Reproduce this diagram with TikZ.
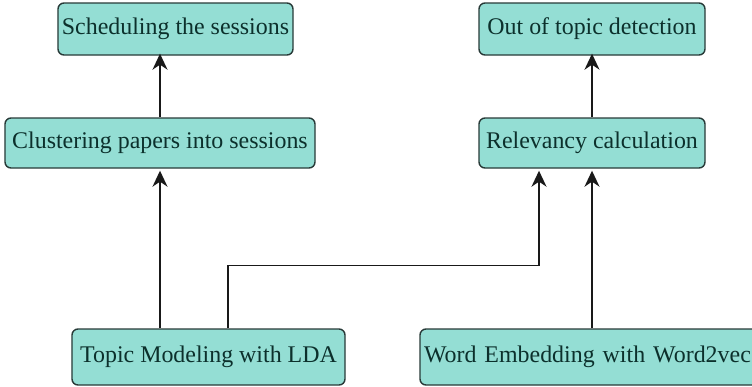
\documentclass[tikz,border=0pt]{standalone}
\usepackage{fontspec}
\setmainfont{Liberation Serif}
\usetikzlibrary{arrows.meta}
\definecolor{boxfill}{RGB}{148,222,212}
\definecolor{boxline}{RGB}{40,58,56}
\definecolor{boxtext}{RGB}{12,48,44}
\begin{document}
\begin{tikzpicture}[x=1bp,y=-1bp,
  box/.style={draw=boxline,line width=1.4bp,fill=boxfill,rounded corners=6bp,
    text=boxtext,font=\fontsize{24}{28}\selectfont,inner sep=0pt},
  arr/.style={draw=black!90,line width=1.6bp,-{Stealth[length=16bp,width=15bp,inset=5bp]}}]
\useasboundingbox (0,0) rectangle (752,386);
\node[box,minimum width=235bp,minimum height=52bp] (sched) at (175.5,29) {Scheduling the sessions};
\node[box,minimum width=310bp,minimum height=50bp] (clust) at (160,143) {Clustering papers into sessions};
\node[box,minimum width=226bp,minimum height=52bp] (out) at (592,29) {Out of topic detection};
\node[box,minimum width=226bp,minimum height=50bp] (rel) at (592,143) {Relevancy calculation};
\node[box,minimum width=273bp,minimum height=56bp] (topic) at (208.5,357) {Topic Modeling with LDA};
\node[box,minimum width=340bp,minimum height=56bp,align=left,text width=332bp,inner xsep=4bp] (word) at (590,357) {Word Embedding with Word2vec};
\draw[arr] (clust.north) -- ([yshift=2bp]clust.north |- sched.south);
\draw[arr] (rel.north) -- ([yshift=2bp]out.south);
\draw[arr] (topic.north -| clust.south) -- ([yshift=-2bp]clust.south);
\draw[arr] ([xshift=19.5bp]topic.north) -- ++(0,-63) -| ([xshift=-53bp,yshift=-2bp]rel.south);
\draw[arr] (word.north -| rel.south) -- ([yshift=-2bp]rel.south);
\end{tikzpicture}
\end{document}
